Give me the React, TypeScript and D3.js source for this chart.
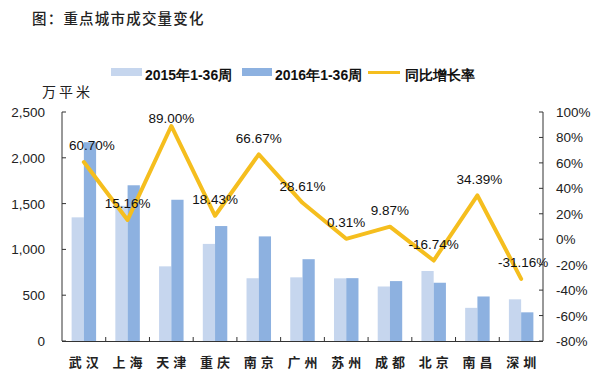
import React from "react";
import * as d3 from "d3";

const cities = ["武汉", "上海", "天津", "重庆", "南京", "广州", "苏州", "成都", "北京", "南昌", "深圳"];
const v2015 = [1350, 1476, 815, 1060, 685, 695, 684, 595, 764, 362, 455];
const v2016 = [2170, 1700, 1542, 1255, 1142, 893, 686, 654, 636, 486, 313];
const growth = [60.7, 15.16, 89.0, 18.43, 66.67, 28.61, 0.31, 9.87, -16.74, 34.39, -31.16];
const growthLabels = ["60.70%", "15.16%", "89.00%", "18.43%", "66.67%", "28.61%", "0.31%", "9.87%", "-16.74%", "34.39%", "-31.16%"];
const leftTicks = [0, 500, 1000, 1500, 2000, 2500];
const rightTicks = [-80, -60, -40, -20, 0, 20, 40, 60, 80, 100];
const labelDx = [8, 0, 0, 0, 0, 0, 0, 0, 0, 2, 2];

const C15 = "#C6D6EE";
const C16 = "#8DB1E0";
const CL = "#F5BE1E";
const LATIN = "'Liberation Sans', Arial, sans-serif";
const CJK = "'Noto Sans CJK SC', sans-serif";

export default function App() {
  const W = 598, H = 380;
  const L = 62, R = 543, T = 112, B = 341;
  const x = d3.scaleBand<string>().domain(cities).range([L, R]).paddingInner(0.44).paddingOuter(0.22);
  const sub = d3.scaleBand<string>().domain(["a", "b"]).range([0, x.bandwidth()]);
  const yL = d3.scaleLinear().domain([0, 2500]).range([B, T]);
  const yR = d3.scaleLinear().domain([-80, 100]).range([B, T]);
  const cx = (c: string) => (x(c) as number) + x.bandwidth() / 2;
  const line = d3.line<number>().x((_, i) => cx(cities[i])).y((d) => yR(d));
  const step = x.step();

  return (
    <svg width={W} height={H} style={{ position: "absolute", left: 0, top: 0, background: "#fff" }}>
      <text x={32} y={24} fontFamily={CJK} fontSize={14.5} letterSpacing={1.2} fill="#222" fontWeight={500}>图：重点城市成交量变化</text>
      {/* legend */}
      <rect x={111} y={68} width={31} height={8} fill={C15} />
      <text x={145} y={80} fontFamily={LATIN} fontSize={14} fontWeight="bold" fill="#111">2015年1-36周</text>
      <rect x={242} y={68} width={30} height={8} fill={C16} />
      <text x={275} y={80} fontFamily={LATIN} fontSize={14} fontWeight="bold" fill="#111">2016年1-36周</text>
      <line x1={368} x2={400} y1={72.5} y2={72.5} stroke={CL} strokeWidth={3} />
      <text x={405} y={80} fontFamily={LATIN} fontSize={14} fontWeight="bold" fill="#111">同比增长率</text>
      <text x={42} y={97} fontFamily={CJK} fontSize={14} letterSpacing={3} fill="#222">万平米</text>

      {/* bars */}
      {cities.map((c, i) => (
        <g key={c}>
          <rect x={(x(c) as number) + (sub("a") as number)} y={yL(v2015[i])} width={sub.bandwidth()} height={B - yL(v2015[i])} fill={C15} />
          <rect x={(x(c) as number) + (sub("b") as number)} y={yL(v2016[i])} width={sub.bandwidth()} height={B - yL(v2016[i])} fill={C16} />
        </g>
      ))}

      {/* axes */}
      <line x1={L} x2={L} y1={T} y2={B} stroke="#333" strokeWidth={1} />
      <line x1={R} x2={R} y1={T} y2={B} stroke="#333" strokeWidth={1} />
      <line x1={L} x2={R} y1={B + 0.5} y2={B + 0.5} stroke="#333" strokeWidth={1} />
      {leftTicks.map((t) => (
        <g key={"l" + t}>
          <line x1={L} x2={L + 4} y1={yL(t)} y2={yL(t)} stroke="#333" />
          <text x={45} y={yL(t) + 5} textAnchor="end" fontFamily={LATIN} fontSize={13.5} fill="#222">{d3.format(",")(t)}</text>
        </g>
      ))}
      {rightTicks.map((t) => (
        <g key={"r" + t}>
          <line x1={R - 4} x2={R} y1={yR(t)} y2={yR(t)} stroke="#333" />
          <text x={556} y={yR(t) + 5} textAnchor="start" fontFamily={LATIN} fontSize={13.5} fill="#222">{t}%</text>
        </g>
      ))}
      {cities.slice(1).map((c) => (
        <line key={"t" + c} x1={(x(c) as number) - (step - x.bandwidth()) / 2} x2={(x(c) as number) - (step - x.bandwidth()) / 2} y1={B - 4} y2={B} stroke="#333" />
      ))}
      {cities.map((c) => (
        <text key={"c" + c} x={cx(c) + 2} y={367} textAnchor="middle" fontFamily={CJK} fontSize={13} letterSpacing={4} fontWeight="bold" fill="#222">{c}</text>
      ))}

      {/* line */}
      <path d={line(growth) as string} fill="none" stroke={CL} strokeWidth={4} strokeLinejoin="round" strokeLinecap="round" />
      {growth.map((g, i) => {
        const cy = Math.max(yR(g) - 16.5, 118);
        return (
          <text key={"g" + i} x={cx(cities[i]) + labelDx[i]} y={cy + 4.7} textAnchor="middle" fontFamily={LATIN} fontSize={13.5} fill="#111">{growthLabels[i]}</text>
        );
      })}
    </svg>
  );
}
